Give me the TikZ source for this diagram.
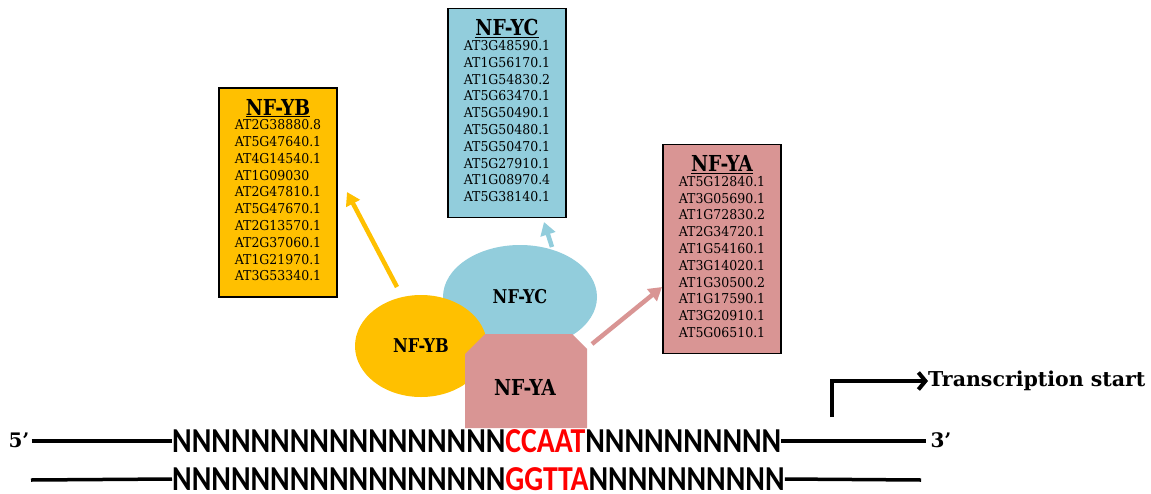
\documentclass[tikz,border=0pt]{standalone}
\usepackage{fontspec}
\setmainfont{DejaVu Serif}
\newfontfamily\labelfont[FakeStretch=0.85]{DejaVu Serif}
\newfontfamily\listfont[FakeStretch=0.92]{DejaVu Serif}
\newfontfamily\seqfont[FakeStretch=0.85]{Carlito}
\usetikzlibrary{arrows.meta,shapes.geometric}
\definecolor{nfyborange}{HTML}{FFC000}
\definecolor{nfycblue}{HTML}{92CDDC}
\definecolor{nfyapink}{HTML}{D99594}
\definecolor{motifred}{HTML}{FF0000}
\newcommand{\genelist}[2]{{\labelfont\bfseries\fontsize{22}{22}\selectfont\underline{#1}}\\[0pt]\begin{tabular}{@{}l@{}}#2\end{tabular}}
\newcommand{\nseq}[1]{\foreach \k in {1,...,#1}{N}}

\begin{document}
\begin{tikzpicture}[x=1pt, y=-1pt,
  listbox/.style={draw=black, line width=1.5pt, minimum width=118, minimum height=209, align=center, inner sep=0pt, font=\listfont\fontsize{13.6}{16.8}\selectfont},
  subunit/.style={inner sep=0pt, font=\labelfont\bfseries\fontsize{19}{19}\selectfont},
  nfarrow/.style={line width=4.5pt, -{Triangle[width=15pt,length=13pt]}},
  strand/.style={line width=3.5pt},
  seqtext/.style={inner sep=0pt, anchor=west, font=\seqfont\bfseries\fontsize{35}{35}\selectfont},
  endlabel/.style={inner sep=0pt, font=\bfseries\fontsize{20}{20}\selectfont}]
  \useasboundingbox (0,0) rectangle (1151,493);

  \node[listbox, fill=nfyborange] (ybbox) at (278,192.5) {\genelist{NF-YB}{AT2G38880.8\\ AT5G47640.1\\ AT4G14540.1\\ AT1G09030\\ AT2G47810.1\\ AT5G47670.1\\ AT2G13570.1\\ AT2G37060.1\\ AT1G21970.1\\ AT3G53340.1}};
  \node[listbox, fill=nfycblue] (ycbox) at (507,113) {\genelist{NF-YC}{AT3G48590.1\\ AT1G56170.1\\ AT1G54830.2\\ AT5G63470.1\\ AT5G50490.1\\ AT5G50480.1\\ AT5G50470.1\\ AT5G27910.1\\ AT1G08970.4\\ AT5G38140.1}};
  \node[listbox, fill=nfyapink] (yabox) at (722,249) {\genelist{NF-YA}{AT5G12840.1\\ AT3G05690.1\\ AT1G72830.2\\ AT2G34720.1\\ AT1G54160.1\\ AT3G14020.1\\ AT1G30500.2\\ AT1G17590.1\\ AT3G20910.1\\ AT5G06510.1}};

  \node[subunit, ellipse, fill=nfycblue, minimum width=154, minimum height=104] (yc) at (520,297) {NF-YC};
  \node[subunit, ellipse, fill=nfyborange, minimum width=132, minimum height=102] (yb) at (421,346) {NF-YB};
  \fill[nfyapink] (465,428) -- (465,354) -- (485,334) -- (572,334) -- (587,349) -- (587,428) -- cycle;
  \node[subunit, font=\labelfont\bfseries\fontsize{22}{22}\selectfont] (ya) at (525,387) {NF-YA};

  \coordinate (ybtail) at (397,287);
  \coordinate (ybtip) at (347,192);
  \coordinate (yctail) at (552,247);
  \coordinate (yctip) at (544,222);
  \coordinate (yatail) at (592,344);
  \coordinate (yatip) at (662,287);
  \draw[nfarrow, nfyborange] (ybtail) -- (ybtip);
  \draw[nfarrow, nfycblue] (yctail) -- (yctip);
  \draw[nfarrow, nfyapink] (yatail) -- (yatip);

  \node[seqtext] (seqtop) at (172,441) {\nseq{17}\textcolor{motifred}{CCAAT}\nseq{10}};
  \node[seqtext] (seqbot) at (172,479) {\nseq{17}\textcolor{motifred}{GGTTA}\nseq{10}};
  \node[endlabel] (five) at (19,440) {5’};
  \node[endlabel] (three) at (941,440) {3’};
  \coordinate (botleft) at (31,480);
  \coordinate (botright) at (921,480);
  \draw[strand] (five.east) ++(2,1) -- (seqtop.west);
  \draw[strand] (seqtop.east) -- ([xshift=-4pt,yshift=-1pt]three.west);
  \draw[strand] (botleft) -- (seqbot.west);
  \draw[strand] (seqbot.east) -- (botright);

  \node[endlabel, anchor=west, font=\bfseries\fontsize{20.5}{20.5}\selectfont] (tss) at (928,381) {Transcription start};
  \coordinate (tssfoot) at (832,417);
  \draw[line width=4pt, -{Straight Barb[length=7pt,width=17pt]}] (tssfoot) |- (tss.west);
\end{tikzpicture}
\end{document}
